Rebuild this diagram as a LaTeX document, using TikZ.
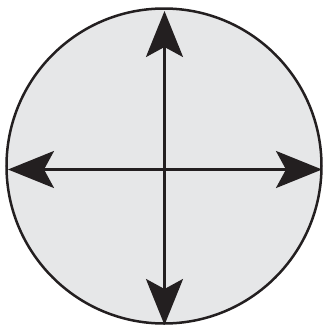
\documentclass[tikz,border=0pt]{standalone}
\usetikzlibrary{arrows.meta}
\definecolor{diskfill}{RGB}{230,231,232}
\definecolor{ink}{RGB}{35,31,32}
\tikzset{
  disk/.style={circle, draw=ink, fill=diskfill, line width=2.5pt, minimum size=315pt, inner sep=0pt},
  axisarrow/.style={draw=ink, line width=2.8pt, -{Stealth[length=46pt, width=37pt, inset=10pt]}}
}
\begin{document}
\begin{tikzpicture}[x=1pt, y=-1pt]
\useasboundingbox (0,0) rectangle (323,327);
\node[disk] (d) at (164,166) {};
\coordinate (c) at (164.5,169.5);
\coordinate (n) at (164.5,11);
\coordinate (s) at (164.5,325);
\coordinate (w) at (8,169.5);
\coordinate (e) at (322,169.5);
\draw[axisarrow] (c) -- (n);
\draw[axisarrow] (c) -- (s);
\draw[axisarrow] (c) -- (w);
\draw[axisarrow] (c) -- (e);
\end{tikzpicture}
\end{document}
